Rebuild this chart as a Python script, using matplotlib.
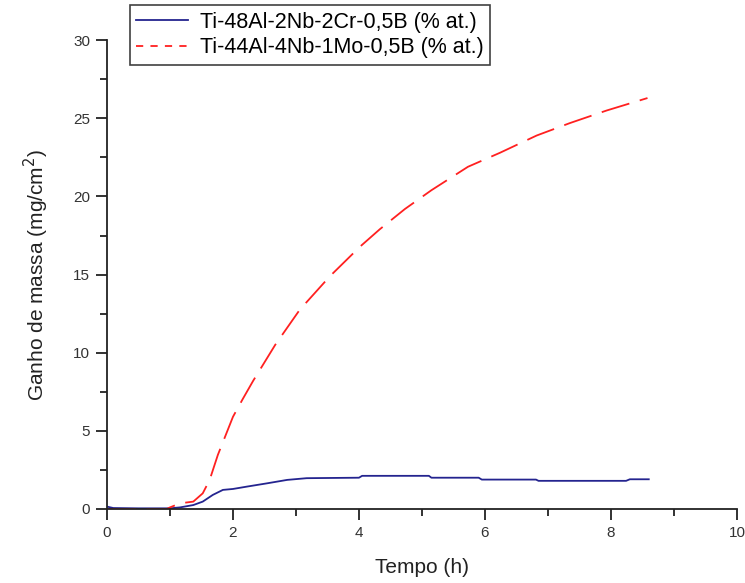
import matplotlib
matplotlib.use("Agg")
import matplotlib.pyplot as plt
from matplotlib.ticker import MultipleLocator
from matplotlib.lines import Line2D

plt.rcParams['font.family'] = ['Liberation Sans', 'DejaVu Sans']

# Series 1: Ti-48Al-2Nb-2Cr-0,5B
t_blue = [0.0, 0.1, 0.5, 1.0, 1.16, 1.37, 1.52, 1.68, 1.84, 2.0, 2.22, 2.54, 2.86, 3.17,
          4.0, 4.05, 5.11, 5.15, 5.9, 5.95, 6.81, 6.85, 8.24, 8.3, 8.6]
m_blue = [0.15, 0.06, 0.04, 0.04, 0.1, 0.25, 0.47, 0.9, 1.22, 1.28, 1.43, 1.64, 1.86, 1.97,
          2.0, 2.12, 2.12, 2.0, 2.0, 1.88, 1.88, 1.8, 1.8, 1.9, 1.9]

# Series 2: Ti-44Al-4Nb-1Mo-0,5B
t_red = [0.0, 0.5, 0.95, 1.0, 1.16, 1.37, 1.52, 1.63, 1.76, 2.0, 2.15, 2.32, 2.67, 3.06,
         3.54, 4.02, 4.33, 4.73, 5.15, 5.73, 6.24, 6.82, 7.35, 7.93, 8.58]
m_red = [0.0, 0.0, 0.0, 0.1, 0.36, 0.47, 1.0, 1.86, 3.46, 5.9, 7.0, 8.2, 10.5, 12.75,
         14.9, 16.8, 17.9, 19.2, 20.4, 21.9, 22.8, 23.9, 24.7, 25.5, 26.3]

labels = ['Ti-48Al-2Nb-2Cr-0,5B (% at.)', 'Ti-44Al-4Nb-1Mo-0,5B (% at.)']

blue = '#24248f'
red = '#ff2020'

fig = plt.figure(figsize=(7.45, 5.83), dpi=100)
ax = fig.add_axes([0.1436, 0.127, 0.8456, 0.804])

ax.plot(t_blue, m_blue, color=blue, lw=1.3)
ax.plot(t_red, m_red, color=red, lw=1.3, dashes=(16, 6))

ax.set_xlim(0, 10)
ax.set_ylim(0, 30)
ax.xaxis.set_major_locator(MultipleLocator(2))
ax.xaxis.set_minor_locator(MultipleLocator(1))
ax.yaxis.set_major_locator(MultipleLocator(5))
ax.yaxis.set_minor_locator(MultipleLocator(2.5))

for s in ['top', 'right']:
    ax.spines[s].set_visible(False)
for s in ['left', 'bottom']:
    ax.spines[s].set_linewidth(1.3)
    ax.spines[s].set_color('#222222')

ax.tick_params(which='major', direction='out', length=8, width=1.3, colors='#222222',
               labelsize=11, labelcolor='#333333', pad=4)
ax.tick_params(which='minor', direction='out', length=5, width=1.3, colors='#222222')

ax.set_xlabel('Tempo (h)', fontsize=15, color='#222222', labelpad=13)
ax.set_ylabel('Ganho de massa (mg/cm$^2$)', fontsize=15, color='#222222', labelpad=16)

handles = [Line2D([], [], color=blue, lw=1.3),
           Line2D([], [], color=red, lw=1.3, dashes=(4, 4))]
leg = ax.legend(handles, labels, loc='upper left', bbox_to_anchor=(0.0365, 1.075),
                frameon=True, fancybox=False, edgecolor='#111111', fontsize=15.5,
                handlelength=2.4, borderpad=0.3, labelspacing=0.22, handletextpad=0.55,
                borderaxespad=0)
leg.get_frame().set_linewidth(1.2)

fig.savefig('out.png', dpi=100)
